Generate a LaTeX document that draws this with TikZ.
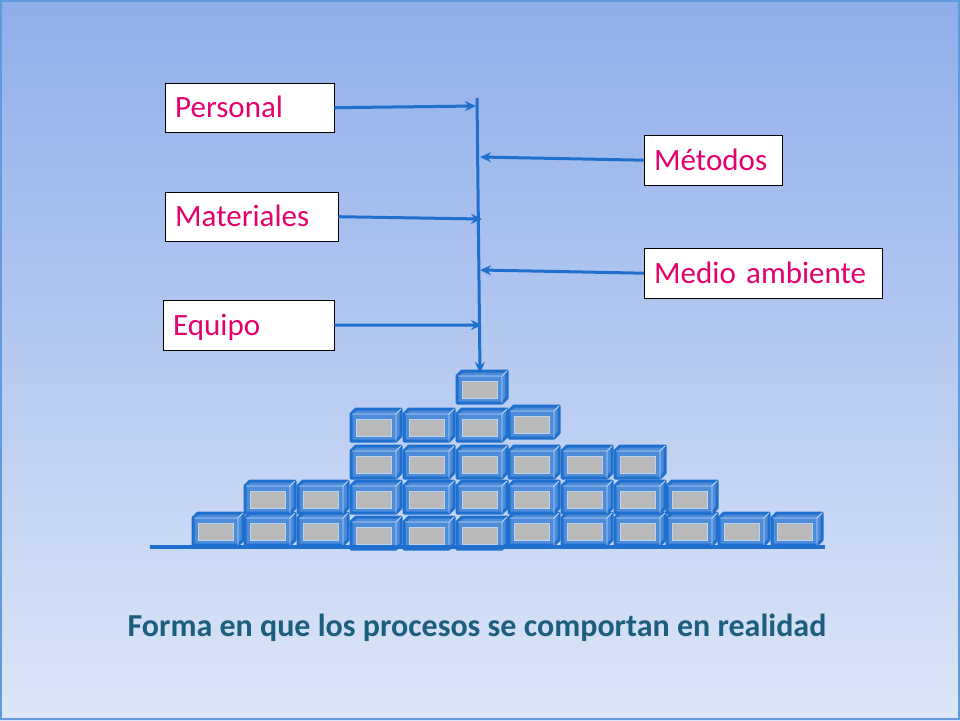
\documentclass[tikz,border=0pt]{standalone}
\usepackage{fontspec}
\setmainfont{Carlito}
\usetikzlibrary{positioning, calc, arrows.meta}
\definecolor{flowblue}{HTML}{1F6FCF}
\definecolor{labelpink}{HTML}{E5006E}
\definecolor{captionteal}{HTML}{1B5E7E}
\definecolor{bgtop}{HTML}{8FAEEA}
\definecolor{bgbottom}{HTML}{DDE6F8}
\tikzset{
  factor/.style={draw=black, fill=white, text=labelpink, font=\fontsize{31}{36}\selectfont, anchor=north west, inner ysep=0pt, inner xsep=10pt, text height=24pt, text depth=4pt},
  flow/.style={flowblue, line width=3pt, -{Stealth[length=11pt, width=10pt]}},
}
% one brick: front face, top and side, grey core
\newcommand{\brick}[2]{%
  \draw[flowblue, line width=3pt, line join=round, fill=flowblue!80]
    (#1,#2+5) -- (#1+5,#2) -- (#1+50,#2) -- (#1+50,#2+27) -- (#1+45,#2+32) -- (#1,#2+32) -- cycle;
  \draw[white!75!flowblue, line width=0.8pt] (#1+45,#2+5) -- (#1+50,#2) (#1+45,#2+5) -- (#1+45,#2+32) (#1+1,#2+5) -- (#1+45,#2+5);
  \draw[white!70!flowblue, line width=0.8pt, fill=gray!55] (#1+5,#2+10) rectangle (#1+40,#2+27);
}
\begin{document}
\begin{tikzpicture}[x=1pt, y=-1pt]
  \shade[top color=bgtop, bottom color=bgbottom] (0,0) rectangle (960,720);
  \draw[flowblue!70, line width=2pt] (1,1) rectangle (959,719);
  \useasboundingbox (0,0) rectangle (960,720);

  % factors
  \node[factor, minimum width=169pt, minimum height=49pt, text width=149pt] (personal) at (165,83) {Personal};
  \node[factor, minimum width=138pt, minimum height=50pt, text width=118pt] (metodos) at (644,135) {Métodos};
  \node[factor, minimum width=173pt, minimum height=49pt, text width=153pt] (materiales) at (165,192) {Materiales};
  \node[factor, minimum width=238pt, minimum height=50pt, text width=218pt] (medio) at (644,248) {Medio ambiente};
  \node[factor, minimum width=171pt, minimum height=50pt, text width=151pt] (equipo) at (163,300) {Equipo};

  % main axis
  \coordinate (top) at (477,98);
  \coordinate (bottom) at (480,373);
  \coordinate (inP) at (476,106);
  \coordinate (inMe) at (480,157);
  \coordinate (inMa) at (482,219);
  \coordinate (inMa2) at (480,270);
  \coordinate (inE) at (482,325);
  \draw[flow] (top) -- (bottom);
  \draw[flow] (personal.east) -- (inP);
  \draw[flow] (metodos.west) -- (inMe);
  \draw[flow] (materiales.east) -- (inMa);
  \draw[flow] (medio.west) -- (inMa2);
  \draw[flow] (equipo.east) -- (inE);

  % bricks
  \foreach \x/\y in {193/513,245/513,298/513,351/517,404/517,457/517,509/513,562/513,615/513,667/513,719/513,772/513}
    \brick{\x}{\y};
  \foreach \x in {245,298,351,404,457,509,562,615,667}
    \brick{\x}{481};
  \foreach \x in {351,404,457,509,562,615}
    \brick{\x}{446};
  \foreach \x/\y in {351/409,404/409,457/409,509/406}
    \brick{\x}{\y};
  \brick{457}{371}

  \coordinate (g1) at (150,547);
  \coordinate (g2) at (825,547);
  \draw[flowblue, line width=4pt] (g1) -- (g2);

  \node[text=captionteal, font=\bfseries\fontsize{32}{36}\selectfont] (caption) at (477,628) {Forma en que los procesos se comportan en realidad};
\end{tikzpicture}
\end{document}
